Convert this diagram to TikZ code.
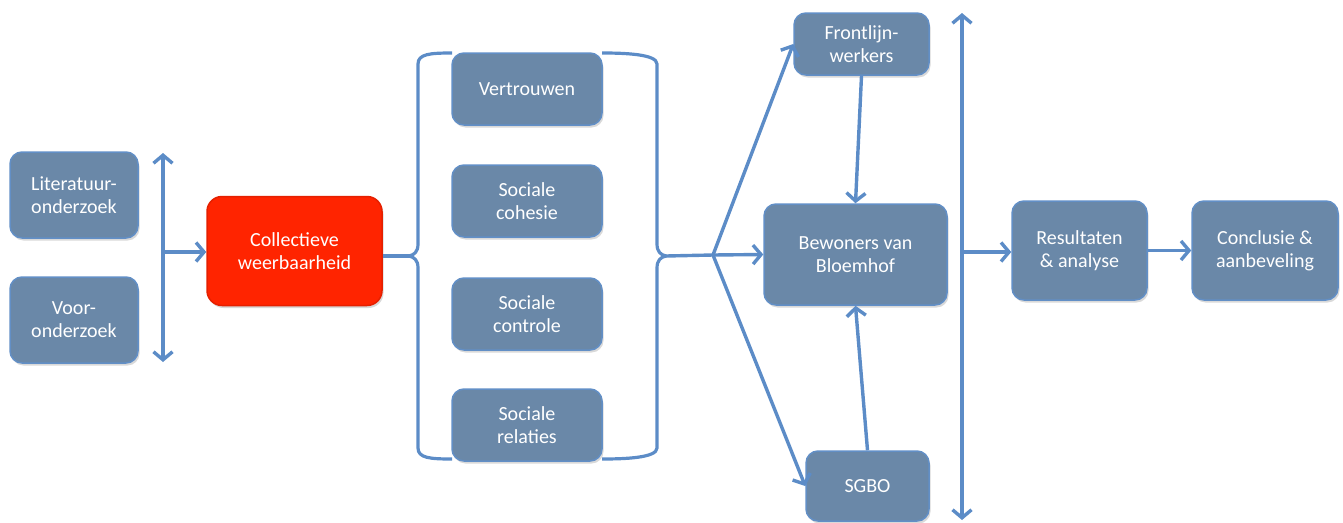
\documentclass[tikz,border=0pt]{standalone}
\usepackage{fontspec}
\setmainfont{Carlito}
\usetikzlibrary{arrows.meta,shadows}
\definecolor{boxfill}{RGB}{106,136,168}
\definecolor{boxedge}{RGB}{98,143,198}
\definecolor{arr}{RGB}{92,140,199}
\definecolor{redfill}{RGB}{255,36,0}
\tikzset{
  box/.style={draw=boxedge, line width=1.5pt, fill=boxfill, rounded corners=12pt,
    text=white, font=\fontsize{20}{23}\selectfont, align=center, inner sep=0pt,
    drop shadow={opacity=0.3, shadow xshift=1.5pt, shadow yshift=-2.5pt}},
  redbox/.style={box, fill=redfill, draw=redfill!90!black, rounded corners=15pt},
  conn/.style={draw=arr, line width=3.4pt, -{Straight Barb[length=8pt,width=19pt]}},
  dbl/.style={draw=arr, line width=3.4pt, {Straight Barb[length=8pt,width=19pt]}-{Straight Barb[length=8pt,width=19pt]}},
  plain/.style={draw=arr, line width=3.4pt},
  brace/.style={draw=arr, line width=3.2pt, line join=round}
}
\begin{document}
\begin{tikzpicture}[x=1pt,y=-1pt]
\useasboundingbox (0,0) rectangle (1343,522);

% left inputs
\node[box, minimum width=128pt, minimum height=86pt] (lit) at (74,195) {Literatuur-\\onderzoek};
\node[box, minimum width=128pt, minimum height=86pt] (voor) at (74,320) {Voor-\\onderzoek};
\coordinate (lt) at (163,153);
\coordinate (lb) at (163,362);
\coordinate (lm) at (163,252);
\draw[dbl] (lt) -- (lb);

\node[redbox, minimum width=175pt, minimum height=109pt] (cw) at (294.5,251) {Collectieve\\weerbaarheid};
\draw[conn] (lm) -- (lm -| cw.west);

% middle boxes
\node[box, minimum width=150pt, minimum height=72pt] (v) at (527,89) {Vertrouwen};
\node[box, minimum width=150pt, minimum height=72pt] (sc) at (527,201) {Sociale\\cohesie};
\node[box, minimum width=150pt, minimum height=72pt] (sk) at (527,314) {Sociale\\controle};
\node[box, minimum width=150pt, minimum height=72pt] (sr) at (527,425) {Sociale\\relaties};

% braces
\coordinate (lbt) at (409,256);
\coordinate (rbt) at (666,256);
\draw[brace] (452,53) .. controls (430,53) and (418,54) .. (418,64) -- (418,244)
  .. controls (418,252) and (414,255) .. (lbt)
  .. controls (414,257) and (418,260) .. (418,268) -- (418,448)
  .. controls (418,458) and (430,459) .. (452,459);
\draw[brace] (602,53) .. controls (624,53) and (657,54) .. (657,64) -- (657,244)
  .. controls (657,252) and (661,255) .. (rbt)
  .. controls (661,257) and (657,260) .. (657,268) -- (657,448)
  .. controls (657,458) and (624,459) .. (602,459);
\draw[plain] (lbt -| cw.east) -- (lbt);

% fan
\coordinate (fan) at (713,255);
\draw[plain] (rbt) -- (fan);

\node[box, minimum width=135pt, minimum height=62pt] (front) at (861.5,44) {Frontlijn-\\werkers};
\node[box, minimum width=183pt, minimum height=101pt] (bew) at (855.5,254.5) {Bewoners van\\Bloemhof};
\node[box, minimum width=123pt, minimum height=70pt] (sgbo) at (867.5,486) {SGBO};

\draw[conn] (fan) -- (front.west);
\draw[conn] (fan) -- (bew.west);
\draw[conn] (fan) -- (sgbo.west);
\draw[conn] (front.south) -- (bew.north);
\draw[conn] (sgbo.north) -- (bew.south);

% right
\coordinate (rt) at (962,13);
\coordinate (rb) at (962,520);
\coordinate (rm) at (962,252);
\draw[dbl] (rt) -- (rb);

\node[box, minimum width=135pt, minimum height=99pt] (res) at (1079.5,250.5) {Resultaten\\\& analyse};
\node[box, minimum width=146pt, minimum height=99pt] (con) at (1265,250.5) {Conclusie \&\\aanbeveling};
\draw[conn] (rm) -- (rm -| res.west);
\draw[conn] (res.east) -- (con.west);
\end{tikzpicture}
\end{document}
